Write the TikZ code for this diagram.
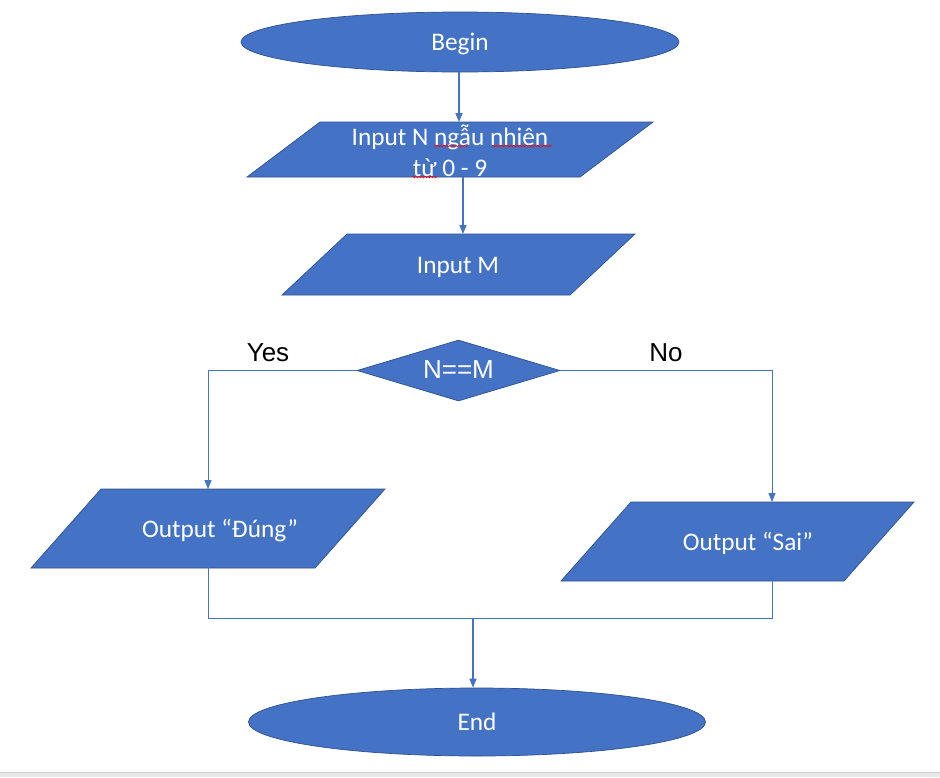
\documentclass[tikz,border=0pt]{standalone}
\usepackage{fontspec}
\setmainfont{Carlito}
\newfontfamily\arialf{Liberation Sans}
\usetikzlibrary{shapes.geometric,arrows.meta,decorations.pathmorphing}
\definecolor{boxblue}{HTML}{4472C4}
\definecolor{edgeblue}{HTML}{2F528F}
\definecolor{barbg}{HTML}{E9E9E9}
\definecolor{barline}{HTML}{CFCFCF}
\tikzset{
  x=1pt, y=-1pt,
  shapebase/.style={fill=boxblue, draw=edgeblue, line width=0.7pt, inner sep=0pt},
  terminal/.style={shapebase, ellipse},
  ioframe/.style={inner sep=0pt, outer sep=0pt, rectangle},
  iofill/.style={fill=boxblue, draw=edgeblue, line width=0.7pt, line join=miter},
  decide/.style={shapebase, diamond},
  wtext/.style={text=white, font=\fontsize{25.3}{31}\selectfont, align=center, inner sep=0pt},
  btext/.style={text=black, font=\arialf\fontsize{26}{30}\selectfont, inner sep=0pt},
  flow/.style={draw=boxblue, line width=1.6pt, -{Triangle[width=7pt,length=9pt]}},
  thinflow/.style={draw=boxblue, line width=1pt, -{Triangle[width=7pt,length=9pt]}},
  plain/.style={draw=boxblue, line width=1pt},
  squig/.style={draw=red, line width=0.6pt, decorate, decoration={snake, amplitude=0.8pt, segment length=3pt}}
}
\newcommand{\paradraw}[2]{%
  \path[iofill] (#1.south west) -- ([xshift=-#2]#1.south east) -- (#1.north east) -- ([xshift=#2]#1.north west) -- cycle;}
\begin{document}
\begin{tikzpicture}
\useasboundingbox (0,0) rectangle (940,777);
\fill[white] (0,0) rectangle (940,777);
% bottom bar
\fill[barbg] (0,772) rectangle (940,777);
\draw[barline, line width=0.8pt] (0,772) -- (940,772);

% shapes
\node[terminal, minimum width=438, minimum height=60] (begin) at (460,42) {};
\node[wtext] (begintext) at (460,43.5) {Begin};

\node[ioframe, minimum width=406, minimum height=55] (in1) at (450,149.5) {};
\paradraw{in1}{73}
\node[wtext] (in1text) at (450,151) {Input N ngẫu nhiên\\từ 0 - 9};

\node[ioframe, minimum width=353, minimum height=61] (in2) at (458.5,264.5) {};
\paradraw{in2}{65}
\node[wtext] (in2text) at (458,267) {Input M};

\node[decide, minimum width=203, minimum height=61] (dec) at (458.5,370.5) {};
\node[btext, text=white] (dectext) at (458.5,370) {N==M};

\node[ioframe, minimum width=354, minimum height=79] (out1) at (208,528.5) {};
\paradraw{out1}{70}
\node[wtext] (out1text) at (220,531) {Output “Đúng”};

\node[ioframe, minimum width=353, minimum height=79] (out2) at (737.5,541.5) {};
\paradraw{out2}{70}
\node[wtext] (out2text) at (748,543) {Output “Sai”};

\node[terminal, minimum width=457, minimum height=68] (end) at (477,722) {};
\node[wtext] (endtext) at (477,722) {End};

% labels
\node[btext] (yes) at (268,353) {Yes};
\node[btext] (no) at (666,353) {No};

% spell-check underlines
\draw[squig] (434,146) -- (468,146);
\draw[squig] (492,146) -- (552,146);
\draw[squig] (412,177) -- (437,177);

% connectors
\draw[flow] ([xshift=-1]begin.south) -- ([xshift=-1]begin.south |- in1.north);
\draw[flow] ([xshift=13]in1.south) -- ([xshift=13]in1.south |- in2.north);
\draw[thinflow] (dec.west) -| (out1.north);
\draw[thinflow] (dec.east) -| ([xshift=34.5]out2.north);
\coordinate (merge) at (473,618);
\draw[plain] ([yshift=3]out1.south) |- (merge);
\draw[plain] ([xshift=34.5,yshift=2]out2.south) |- (merge);
\draw[flow] (merge) -- (merge |- end.north);
\end{tikzpicture}
\end{document}
